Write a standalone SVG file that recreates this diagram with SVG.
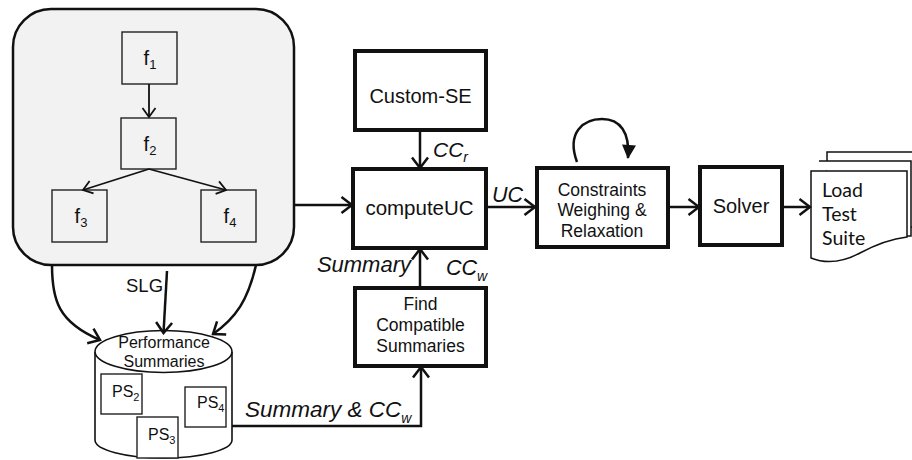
<svg xmlns="http://www.w3.org/2000/svg" width="912" height="460" viewBox="0 0 912 460">
  <defs>
    <style>
      .t { font-family: "Liberation Sans", Arial, sans-serif; fill: #111; }
      .it { font-family: "Liberation Sans", Arial, sans-serif; font-style: italic; fill: #111; }
      .doc { font-family: Lato, "Noto Sans", sans-serif; fill: #111; }
      .thin { fill: #fff; stroke: #222; stroke-width: 1.4; }
      .thick { fill: #fff; stroke: #111; stroke-width: 4; }
      .wire { fill: none; stroke: #111; stroke-width: 2.5; }
      .wire-s { fill: none; stroke: #111; stroke-width: 1.8; }
    </style>
    <marker id="arr" viewBox="0 0 14 20" refX="12" refY="10" markerWidth="14" markerHeight="20" orient="auto" markerUnits="userSpaceOnUse">
      <path d="M1.5,2 L12,10 L1.5,18" fill="none" stroke="#111" stroke-width="2.5"/>
    </marker>
    <marker id="arr-s" viewBox="0 0 12 16" refX="10.5" refY="8" markerWidth="12" markerHeight="16" orient="auto" markerUnits="userSpaceOnUse">
      <path d="M1.5,1.5 L10.5,8 L1.5,14.5" fill="none" stroke="#111" stroke-width="1.8"/>
    </marker>
    <marker id="arr-fill" viewBox="0 0 16 14" refX="14" refY="7" markerWidth="16" markerHeight="14" orient="auto" markerUnits="userSpaceOnUse">
      <path d="M1,0 L15,7 L1,14 Z" fill="#111"/>
    </marker>
  </defs>

  <!-- call graph container -->
  <g id="slg-graph">
    <rect x="13" y="9" width="281" height="256" rx="38" ry="38" fill="#f2f2f2" stroke="#111" stroke-width="2.5"/>
  </g>
  <g id="f1">
    <rect class="thin" x="122" y="32" width="55" height="52" fill="#f2f2f2" style="fill:#f2f2f2"/>
    <text class="t" x="150" y="65" font-size="20" text-anchor="middle">f<tspan font-size="13" dy="4">1</tspan></text>
  </g>
  <g id="f2">
    <rect class="thin" x="121" y="118" width="55" height="51" style="fill:#f2f2f2"/>
    <text class="t" x="150" y="151" font-size="20" text-anchor="middle">f<tspan font-size="13" dy="4">2</tspan></text>
  </g>
  <g id="f3">
    <rect class="thin" x="52" y="190" width="55" height="52" style="fill:#f2f2f2"/>
    <text class="t" x="81" y="223" font-size="20" text-anchor="middle">f<tspan font-size="13" dy="4">3</tspan></text>
  </g>
  <g id="f4">
    <rect class="thin" x="201" y="190" width="55" height="52" style="fill:#f2f2f2"/>
    <text class="t" x="230" y="223" font-size="20" text-anchor="middle">f<tspan font-size="13" dy="4">4</tspan></text>
  </g>

  <!-- performance summaries store -->
  <g id="perf-summaries">
    <path d="M95,352 L95,440 A68.5,18 0 0 0 232,440 L232,352" fill="#fff" stroke="#111" stroke-width="1.6"/>
    <ellipse cx="163.5" cy="351.5" rx="68.5" ry="21" fill="#fff" stroke="#111" stroke-width="1.6"/>
    <text class="t" x="164" y="348" font-size="16" text-anchor="middle">Performance</text>
    <text class="t" x="164" y="367" font-size="16" text-anchor="middle">Summaries</text>
  </g>
  <g id="ps2">
    <rect class="thin" x="101" y="374" width="41" height="40"/>
    <text class="t" x="112" y="397" font-size="16">PS<tspan font-size="11" dy="4">2</tspan></text>
  </g>
  <g id="ps3">
    <rect class="thin" x="137" y="417" width="41" height="41"/>
    <text class="t" x="148" y="440" font-size="16">PS<tspan font-size="11" dy="4">3</tspan></text>
  </g>
  <g id="ps4">
    <rect class="thin" x="185" y="387" width="41" height="40"/>
    <text class="t" x="197" y="408" font-size="16">PS<tspan font-size="11" dy="4">4</tspan></text>
  </g>

  <!-- processing blocks -->
  <g id="custom-se">
    <rect class="thick" x="355" y="51" width="131" height="79"/>
    <text class="t" x="420.5" y="103" font-size="20" text-anchor="middle">Custom-SE</text>
  </g>
  <g id="compute-uc">
    <rect class="thick" x="353" y="169" width="133" height="79"/>
    <text class="t" x="419.5" y="215" font-size="20.5" text-anchor="middle">computeUC</text>
  </g>
  <g id="find-compatible">
    <rect class="thick" x="355" y="288" width="131" height="78"/>
    <text class="t" x="420.5" y="310" font-size="17.5" text-anchor="middle">Find</text>
    <text class="t" x="420.5" y="331" font-size="17.5" text-anchor="middle">Compatible</text>
    <text class="t" x="420.5" y="352" font-size="17.5" text-anchor="middle">Summaries</text>
  </g>
  <g id="constraints">
    <rect class="thick" x="537" y="168" width="131" height="79"/>
    <text class="t" x="602" y="196" font-size="17.5" text-anchor="middle">Constraints</text>
    <text class="t" x="602" y="216" font-size="17.5" text-anchor="middle">Weighing &amp;</text>
    <text class="t" x="602" y="237" font-size="17.5" text-anchor="middle">Relaxation</text>
  </g>
  <g id="solver">
    <rect class="thick" x="700" y="167" width="82" height="78"/>
    <text class="t" x="741" y="213" font-size="20" text-anchor="middle">Solver</text>
  </g>
  <g id="load-test-suite">
    <rect x="827" y="152" width="110" height="75" fill="#fff" stroke="#111" stroke-width="1.5"/>
    <path d="M819,161 L911,161 L911,236 L880,236" fill="#fff" stroke="#111" stroke-width="1.5"/>
    <path d="M811,171 L907,171 L907,237 C890,239 875,245 860,253 C845,261 828,265 811,258 Z" fill="#fff" stroke="#111" stroke-width="1.5"/>
    <text class="doc" x="822" y="197" font-size="19.5">Load</text>
    <text class="doc" x="822" y="221" font-size="19.5">Test</text>
    <text class="doc" x="822" y="245" font-size="19.5">Suite</text>
  </g>

  <!-- connectors -->
  <g id="connectors">
    <path class="wire-s" d="M149,84 L149,117" marker-end="url(#arr-s)"/>
    <path class="wire-s" d="M149,169 L83,190" marker-end="url(#arr-s)"/>
    <path class="wire-s" d="M149,169 L226,190" marker-end="url(#arr-s)"/>

    <path class="wire" d="M294,205 L352,205" marker-end="url(#arr)"/>
    <path class="wire" d="M420,130 L420,168" marker-end="url(#arr)"/>
    <path class="wire" d="M486,207 L535,207" marker-end="url(#arr)"/>
    <path class="wire" d="M668,207 L699,207" marker-end="url(#arr)"/>
    <path class="wire" d="M782,207 L810,207" marker-end="url(#arr)"/>
    <path class="wire" d="M420,288 L420,249" marker-end="url(#arr)"/>
    <path class="wire" d="M232,426 L421,426 L421,367" marker-end="url(#arr)"/>

    <path class="wire" d="M577,162 C566,132 584,119 602,119 C620,119 630,132 628,158" marker-end="url(#arr-fill)"/>

    <path class="wire" d="M52,265 C52,300 58,322 100,340" marker-end="url(#arr)"/>
    <path class="wire" d="M167,271 L163.5,333" marker-end="url(#arr)"/>
    <path class="wire" d="M256,265 C248,300 236,318 213,334" marker-end="url(#arr)"/>

    <text class="t" x="126" y="292" font-size="18.5">SLG</text>
    <text class="it" x="433" y="157" font-size="21">CC<tspan font-size="14" dy="5">r</tspan></text>
    <text class="it" x="492" y="202" font-size="21.5">UC</text>
    <text class="it" x="411" y="272" font-size="22" text-anchor="end">Summary</text>
    <text class="it" x="446" y="275" font-size="21.5">CC<tspan font-size="14" dy="6">w</tspan></text>
    <text class="it" x="245" y="417" font-size="22.5">Summary &amp; CC<tspan font-size="14" dy="6">w</tspan></text>
  </g>
</svg>
